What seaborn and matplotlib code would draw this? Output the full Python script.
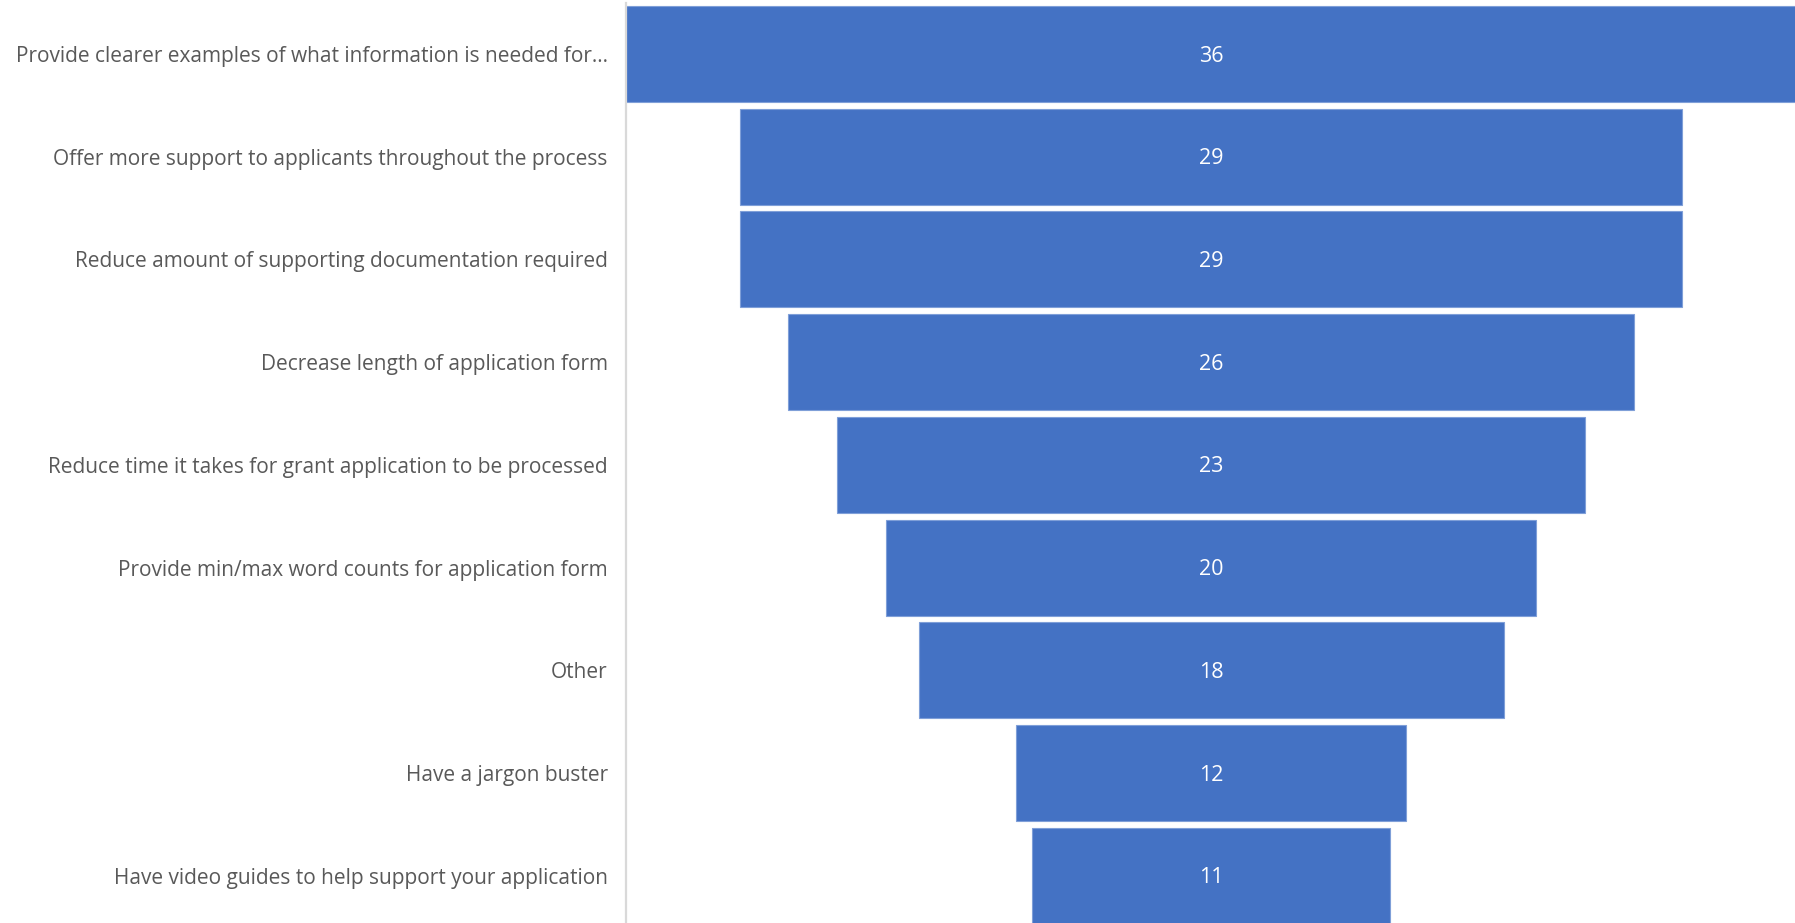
import matplotlib
matplotlib.use("Agg")
import matplotlib.pyplot as plt
import seaborn as sns
import pandas as pd

categories = [
    "Provide clearer examples of what information is needed for...",
    "Offer more support to applicants throughout the process",
    "Reduce amount of supporting documentation required",
    "Decrease length of application form",
    "Reduce time it takes for grant application to be processed",
    "Provide min/max word counts for application form",
    "Other",
    "Have a jargon buster",
    "Have video guides to help support your application",
]
counts = [36, 29, 29, 26, 23, 20, 18, 12, 11]

sns.set_theme(style="white")
plt.rcParams["font.family"] = ["Open Sans", "DejaVu Sans"]

df = pd.DataFrame({"suggestion": categories, "count": counts})

fig = plt.figure(figsize=(17.95, 9.23), dpi=100)
ax = fig.add_axes([0.3487, -0.0045, 0.6520, 1.0016])

sns.barplot(data=df, x="count", y="suggestion", orient="h", color="#4472C4",
            saturation=1, width=0.935, edgecolor="#7f9fd8", linewidth=0.8, ax=ax)

# Centre every bar on zero to form the funnel
for patch, v in zip(ax.patches, counts):
    patch.set_x(-v / 2)
    ax.text(0, patch.get_y() + patch.get_height() / 2 + 0.02, f"{v}",
            ha="center", va="center", color="white", fontsize=15.5)

half = max(counts) / 2
ax.set_xlim(-half, half)
ax.set_ylim(len(categories) - 0.5, -0.5)
ax.set_xlabel("")
ax.set_ylabel("")
ax.set_xticks([])
ax.tick_params(axis="y", length=0, pad=13, labelsize=15, labelcolor="#595959")
for lbl in ax.get_yticklabels():
    lbl.set_y(lbl.get_position()[1])

for side in ("top", "right", "bottom"):
    ax.spines[side].set_visible(False)
ax.spines["left"].set_color("#d9d9d9")
ax.spines["left"].set_linewidth(1.6)

fig.savefig("out.png", dpi=100)
